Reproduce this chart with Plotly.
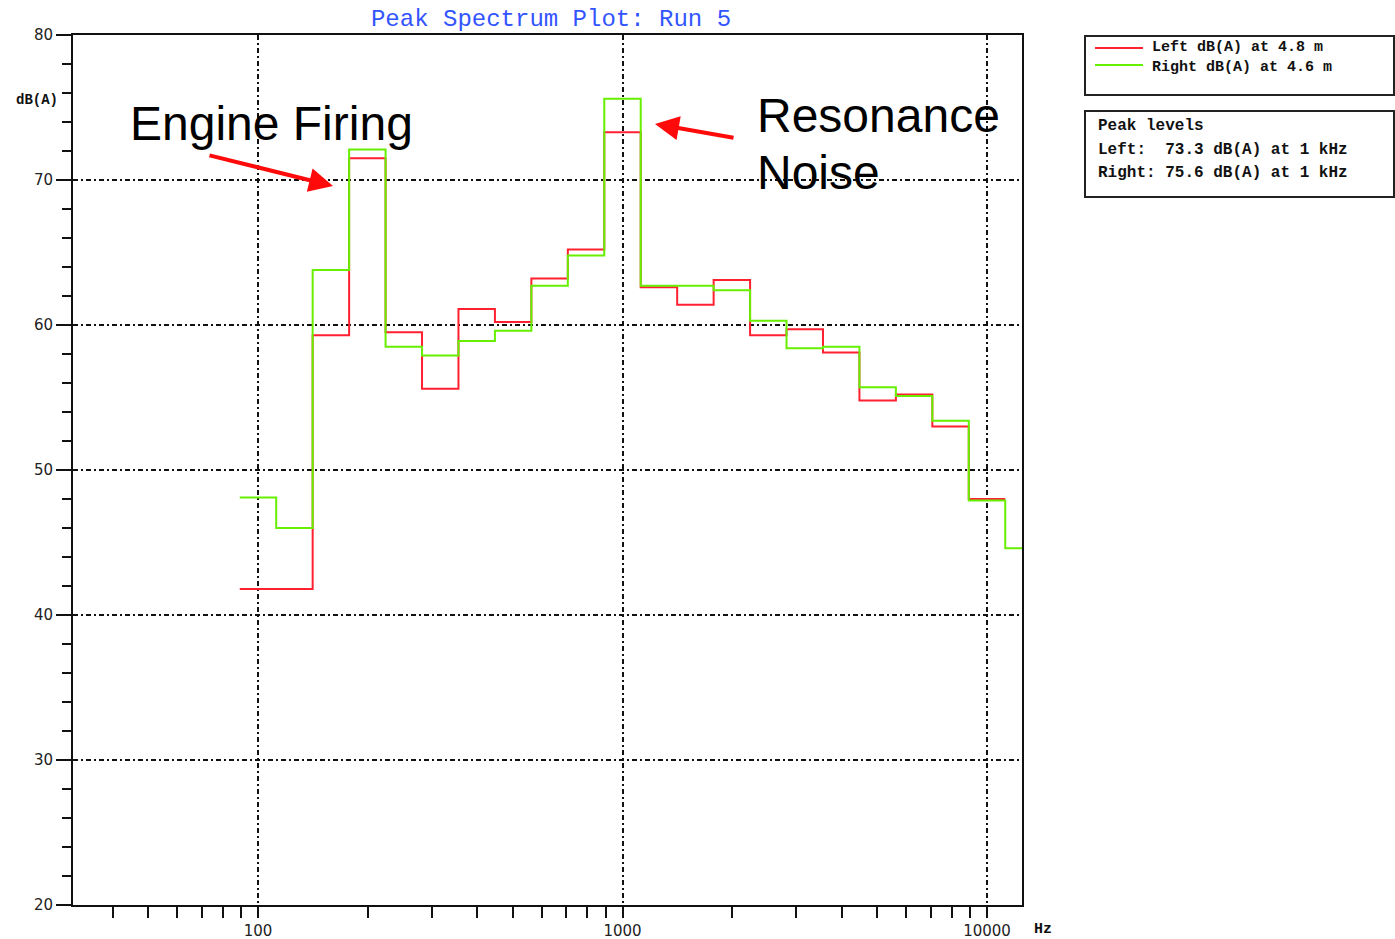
import plotly.graph_objects as go
import math

# ---------------- data ----------------
band_centres_hz = [100, 125, 160, 200, 250, 315, 400, 500, 630, 800, 1000,
                   1250, 1600, 2000, 2500, 3150, 4000, 5000, 6300, 8000, 10000, 12500]
left_db = [41.8, 41.8, 59.3, 71.5, 59.5, 55.6, 61.1, 60.2, 63.2, 65.2, 73.3,
           62.6, 61.4, 63.1, 59.3, 59.7, 58.1, 54.8, 55.2, 53.0, 48.0, None]
right_db = [48.1, 46.0, 63.8, 72.1, 58.5, 57.9, 58.9, 59.6, 62.7, 64.8, 75.6,
            62.7, 62.7, 62.4, 60.3, 58.4, 58.5, 55.7, 55.1, 53.4, 47.9, 44.6]
left_name = "Left dB(A) at 4.8 m"
right_name = "Right dB(A) at 4.6 m"
peak_lines = ["Peak levels", "Left:  73.3 dB(A) at 1 kHz", "Right: 75.6 dB(A) at 1 kHz"]
x_major = [100, 1000, 10000]
x_major_labels = ["100", "1000", "10000"]
y_major = [20, 30, 40, 50, 60, 70, 80]

# ---------------- layout helpers (page pixels -> paper) ----------------
W, H = 1395, 939
L, R, T, B = 73, 1022, 35, 905   # plot area in page pixels


def px(p):
    return (p - L) / (R - L)


def py(p):
    return (B - p) / (B - T)


def step_xy(values):
    xs, ys = [], []
    last = None
    for fc, v in zip(band_centres_hz, values):
        if v is None:
            continue
        k = round(math.log10(fc) * 10) / 10
        xs.append(10 ** (k - 0.05))
        ys.append(v)
        last = 10 ** (k + 0.05)
    xs.append(last)
    ys.append(ys[-1])
    return xs, ys


minor_vals = [m * d for d in (10, 100, 1000) for m in range(2, 10)]

fig = go.Figure()
lx, ly = step_xy(left_db)
rx, ry = step_xy(right_db)
fig.add_trace(go.Scatter(x=lx, y=ly, mode="lines", line_shape="hv", name=left_name,
                         line=dict(color="#ff2030", width=2), showlegend=False))
fig.add_trace(go.Scatter(x=rx, y=ry, mode="lines", line_shape="hv", name=right_name,
                         line=dict(color="#66f000", width=2), showlegend=False))

grid_dash = "5px,3px,2px,3px"
fig.update_xaxes(type="log", range=[1.4925, 4.096], automargin=False,
                 tickmode="array", tickvals=x_major, ticktext=x_major_labels,
                 ticks="outside", ticklen=11, tickwidth=2, tickcolor="#111",
                 showline=True, linecolor="#111", linewidth=2, mirror=True,
                 showgrid=True, gridcolor="#111", gridwidth=2, griddash=grid_dash,
                 zeroline=False,
                 tickfont=dict(family="DejaVu Sans", size=15, color="#222"),
                 minor=dict(tickmode="array", tickvals=minor_vals, ticks="outside",
                            ticklen=11, tickwidth=2, tickcolor="#111", showgrid=False))
fig.update_yaxes(range=[20, 80], tickmode="array", tickvals=y_major, automargin=False,
                 ticks="outside", ticklen=15, tickwidth=2, tickcolor="#111",
                 showline=True, linecolor="#111", linewidth=2, mirror=True,
                 showgrid=True, gridcolor="#111", gridwidth=2, griddash=grid_dash,
                 zeroline=False,
                 tickfont=dict(family="DejaVu Sans", size=15, color="#222"),
                 minor=dict(dtick=2, ticks="outside", ticklen=9, tickwidth=2,
                            tickcolor="#111", showgrid=False))

mono = "Liberation Mono"
shapes = [
    dict(type="rect", xref="paper", yref="paper", x0=px(1085), x1=px(1394), y0=py(36), y1=py(95),
         line=dict(color="#222", width=2)),
    dict(type="rect", xref="paper", yref="paper", x0=px(1085), x1=px(1394), y0=py(111), y1=py(197),
         line=dict(color="#222", width=2)),
    dict(type="line", xref="paper", yref="paper", x0=px(1095), x1=px(1143), y0=py(48), y1=py(48),
         line=dict(color="#ff2030", width=2)),
    dict(type="line", xref="paper", yref="paper", x0=px(1095), x1=px(1143), y0=py(65), y1=py(65),
         line=dict(color="#66f000", width=2)),
]

ann = []


def nb(s):
    return s.replace(" ", "&nbsp;")


def text(x, y, s, size=16, family=mono, color="#111", anchor="left", bold=False, yanchor="middle"):
    ann.append(dict(xref="paper", yref="paper", x=px(x), y=py(y), text=(f"<b>{s}</b>" if bold else s),
                    showarrow=False, xanchor=anchor, yanchor=yanchor, align="left",
                    font=dict(family=family, size=size, color=color)))


text(1150, 57, nb(left_name) + "<br>" + nb(right_name), size=15, bold=True)
text(1096, 126, nb(peak_lines[0]), bold=True)
text(1096, 150, nb(peak_lines[1]), bold=True)
text(1096, 173, nb(peak_lines[2]), bold=True)
text(37, 100, "dB(A)", size=14, anchor="center", bold=True)
text(1043, 929, "Hz", size=15, anchor="center", bold=True)

sans = "Liberation Sans"
text(128, 123, "Engine Firing", size=48, family=sans, color="#000")
text(755, 116, "Resonance", size=48, family=sans, color="#000")
text(755, 172, "Noise", size=48, family=sans, color="#000")

for tip, tail in [((333, 186), (208, 155)), ((655, 124), (735, 138))]:
    ann.append(dict(xref="paper", yref="paper", x=px(tip[0]), y=py(tip[1]), text="",
                    showarrow=True, axref="pixel", ayref="pixel",
                    ax=tail[0] - tip[0], ay=tail[1] - tip[1],
                    arrowhead=2, arrowsize=1.2, arrowwidth=4, arrowcolor="#ff0a0a",
                    standoff=0, startstandoff=0))

fig.update_layout(
    width=W, height=H,
    margin=dict(l=L, r=W - R, t=T, b=H - B, autoexpand=False),
    paper_bgcolor="white", plot_bgcolor="white",
    title=dict(text="Peak Spectrum Plot: Run 5", x=551 / W, y=1 - 18 / H,
               xref="container", yref="container", xanchor="center", yanchor="middle",
               font=dict(family=mono, size=24, color="#3355ff")),
    shapes=shapes, annotations=ann, showlegend=False,
)

fig.write_html("out.html", config={"displayModeBar": False},
               post_script="document.body.style.margin='0';document.body.style.overflow='hidden';")
